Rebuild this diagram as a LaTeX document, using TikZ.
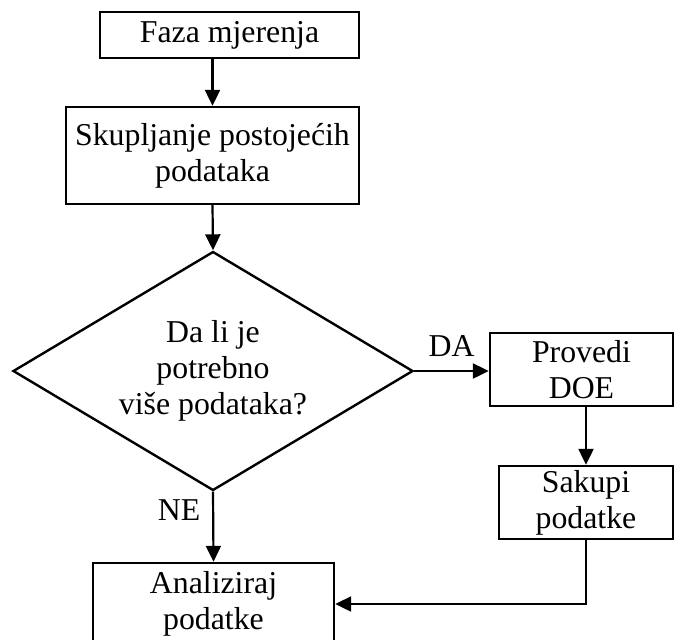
\documentclass[tikz,border=0pt]{standalone}
\usepackage{fontspec}
\setmainfont{Liberation Serif}
\usetikzlibrary{positioning,shapes.geometric,arrows.meta}

\tikzset{
	blok/.style={draw, line width=1.2pt, align=center, inner sep=0pt, font=\fontsize{15.9}{18}\selectfont},
	odlblok/.style={blok, diamond, shape aspect=1.67, inner sep=-3pt},
	strelica/.style={line width=1.1pt, -{Triangle[length=8pt,width=7.5pt]}},
	oznaka/.style={font=\fontsize{15.9}{18}\selectfont},
}

\begin{document}
\begin{tikzpicture}[x=0.5pt,y=-0.5pt]
	\useasboundingbox (0,0) rectangle (674,639);
	\clip (0,0) rectangle (674,639);
	
	% Blokovi
	\node[blok, minimum width=129.5pt, minimum height=23pt] (faza) at (229.5,35) {Faza mjerenja};
	\node[blok, minimum width=146.5pt, minimum height=48.5pt] (skup) at (212.5,155.5) {Skupljanje postojećih\\podataka};
	\node[odlblok, minimum width=200pt, minimum height=119.5pt] (odluka) at (213,371) {Da li je\\potrebno\\više podataka?};
	\node[blok, minimum width=91.5pt, minimum height=36.5pt] (provedi) at (581.5,369.5) {Provedi\\DOE};
	\node[blok, minimum width=87pt, minimum height=36.5pt] (sakupi) at (586,502.5) {Sakupi\\podatke};
	\node[blok, minimum width=120.5pt, minimum height=41pt] (analiza) at (213.5,604) {Analiziraj\\podatke};
	
	% Strelice
	\draw[strelica] (faza.south -| skup.north) -- (skup.north);
	\draw[strelica] (skup.south) -- (odluka.north);
	\draw[strelica] (odluka.east) -- (odluka.east -| provedi.west)
		node[oznaka, midway, above=3.5pt] (da) {DA};
	\draw[strelica] (sakupi.north |- provedi.south) -- (sakupi.north);
	\draw[strelica] (odluka.south) -- (analiza.north)
		node[oznaka, pos=0.26, left=2.5pt] (ne) {NE};
	\draw[strelica] (sakupi.south) |- (analiza.east);
\end{tikzpicture}
\end{document}
